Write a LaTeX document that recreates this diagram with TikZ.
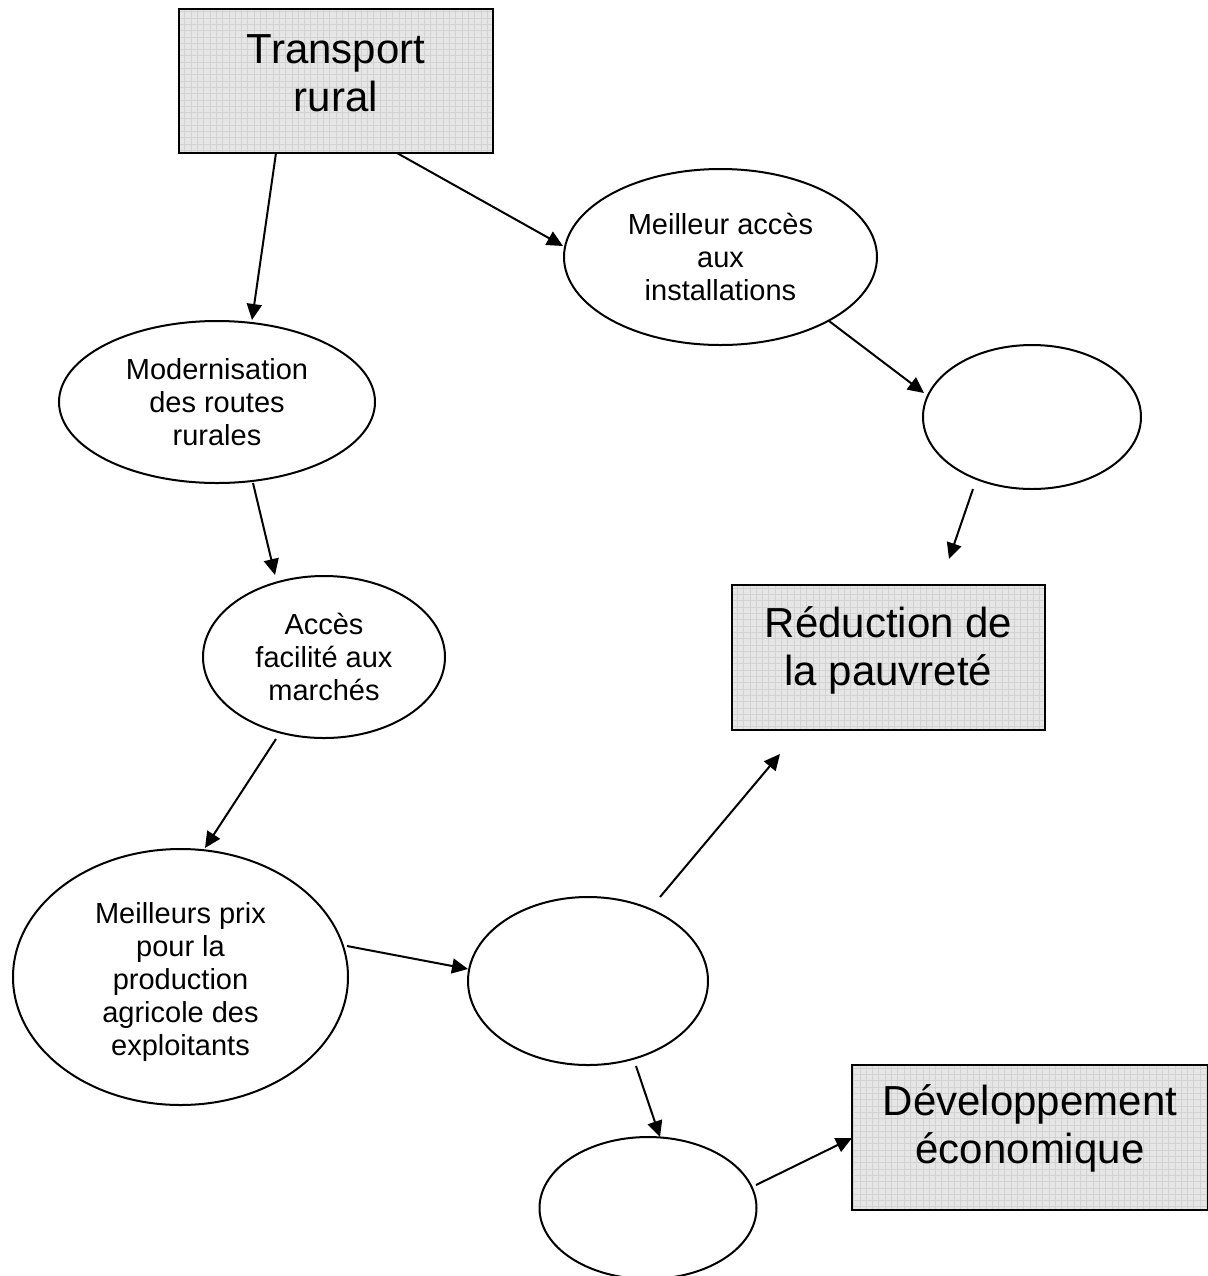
\documentclass[tikz,border=0pt]{standalone}
\usepackage{fontspec}
\setmainfont{Liberation Sans}
\usetikzlibrary{shapes.geometric,arrows.meta}
\definecolor{boxfill}{RGB}{230,230,230}
\definecolor{gridc}{RGB}{210,210,210}
\begin{document}
\begin{tikzpicture}[x=0.5pt,y=-0.5pt,
  ell/.style={draw, line width=1pt, ellipse, inner sep=0pt, outer sep=0pt, align=center,
    font=\fontsize{14.5}{16.5}\selectfont},
  gbox/.style={draw, line width=1pt, rectangle, inner sep=0pt, outer sep=0pt,
    fill=boxfill,
    path picture={\draw[gridc, line width=0.35pt] (path picture bounding box.south west) grid[step=3.15pt] (path picture bounding box.north east);}},
  btext/.style={inner sep=0pt, align=center, font=\fontsize{21}{24}\selectfont},
  arr/.style={-{Triangle[length=8pt,width=7.5pt]}, line width=1pt}]
\useasboundingbox (0,0) rectangle (1207,1276);

\node[gbox, minimum width=157pt, minimum height=72pt] (tr) at (336,81) {};
\node[btext] (trt) at (336,73) {Transport\\rural};
\node[ell, minimum width=156.5pt, minimum height=88pt] (macc) at (720.5,257) {Meilleur accès\\aux\\installations};
\node[ell, minimum width=158pt, minimum height=81pt] (mod) at (217,402) {Modernisation\\des routes\\rurales};
\node[ell, minimum width=109pt, minimum height=72pt] (er) at (1032,417) {};
\node[ell, minimum width=121pt, minimum height=81pt] (acc) at (324,657) {Accès\\facilité aux\\marchés};
\node[gbox, minimum width=156.5pt, minimum height=72.5pt] (red) at (888.5,657.5) {};
\node[btext] (redt) at (888.5,650) {Réduction de\\la pauvreté};
\node[ell, minimum width=167.5pt, minimum height=128pt] (prix) at (180.5,977) {};
\node[inner sep=0pt, align=center, font=\fontsize{14.5}{16.5}\selectfont] (prixt) at (180.5,982) {Meilleurs prix\\pour la\\production\\agricole des\\exploitants};
\node[ell, minimum width=120pt, minimum height=84pt] (mid) at (588,981) {};
\node[ell, minimum width=108.5pt, minimum height=71pt] (bot) at (648,1208) {};
\node[gbox, minimum width=178pt, minimum height=72.5pt] (dev) at (1030,1137.5) {};
\node[btext] (devt) at (1030,1128) {Développement\\économique};

\draw[arr] ([shift={(-60,72)}]tr.center) -- ([shift={(35,-82)}]mod.center);
\draw[arr] ([shift={(61,72)}]tr.center) -- ([shift={(-157.5,-11)}]macc.center);
\draw[arr] ([shift={(108.5,64)}]macc.center) -- ([shift={(-108,-24)}]er.center);
\draw[arr] ([shift={(-59,72)}]er.center) -- ([shift={(60.5,-98.5)}]red.center);
\draw[arr] ([shift={(36,81)}]mod.center) -- ([shift={(-49,-82)}]acc.center);
\draw[arr] ([shift={(-48,82)}]acc.center) -- ([shift={(24.5,-129)}]prix.center);
\draw[arr] ([shift={(166.5,-31)}]prix.center) -- ([shift={(-120,-12)}]mid.center);
\draw[arr] ([shift={(72,-84)}]mid.center) -- ([shift={(-108.5,96.5)}]red.center);
\draw[arr] ([shift={(48,85)}]mid.center) -- ([shift={(12,-71)}]bot.center);
\draw[arr] ([shift={(108,-23)}]bot.center) -- ([shift={(-178,0.5)}]dev.center);
\end{tikzpicture}
\end{document}
